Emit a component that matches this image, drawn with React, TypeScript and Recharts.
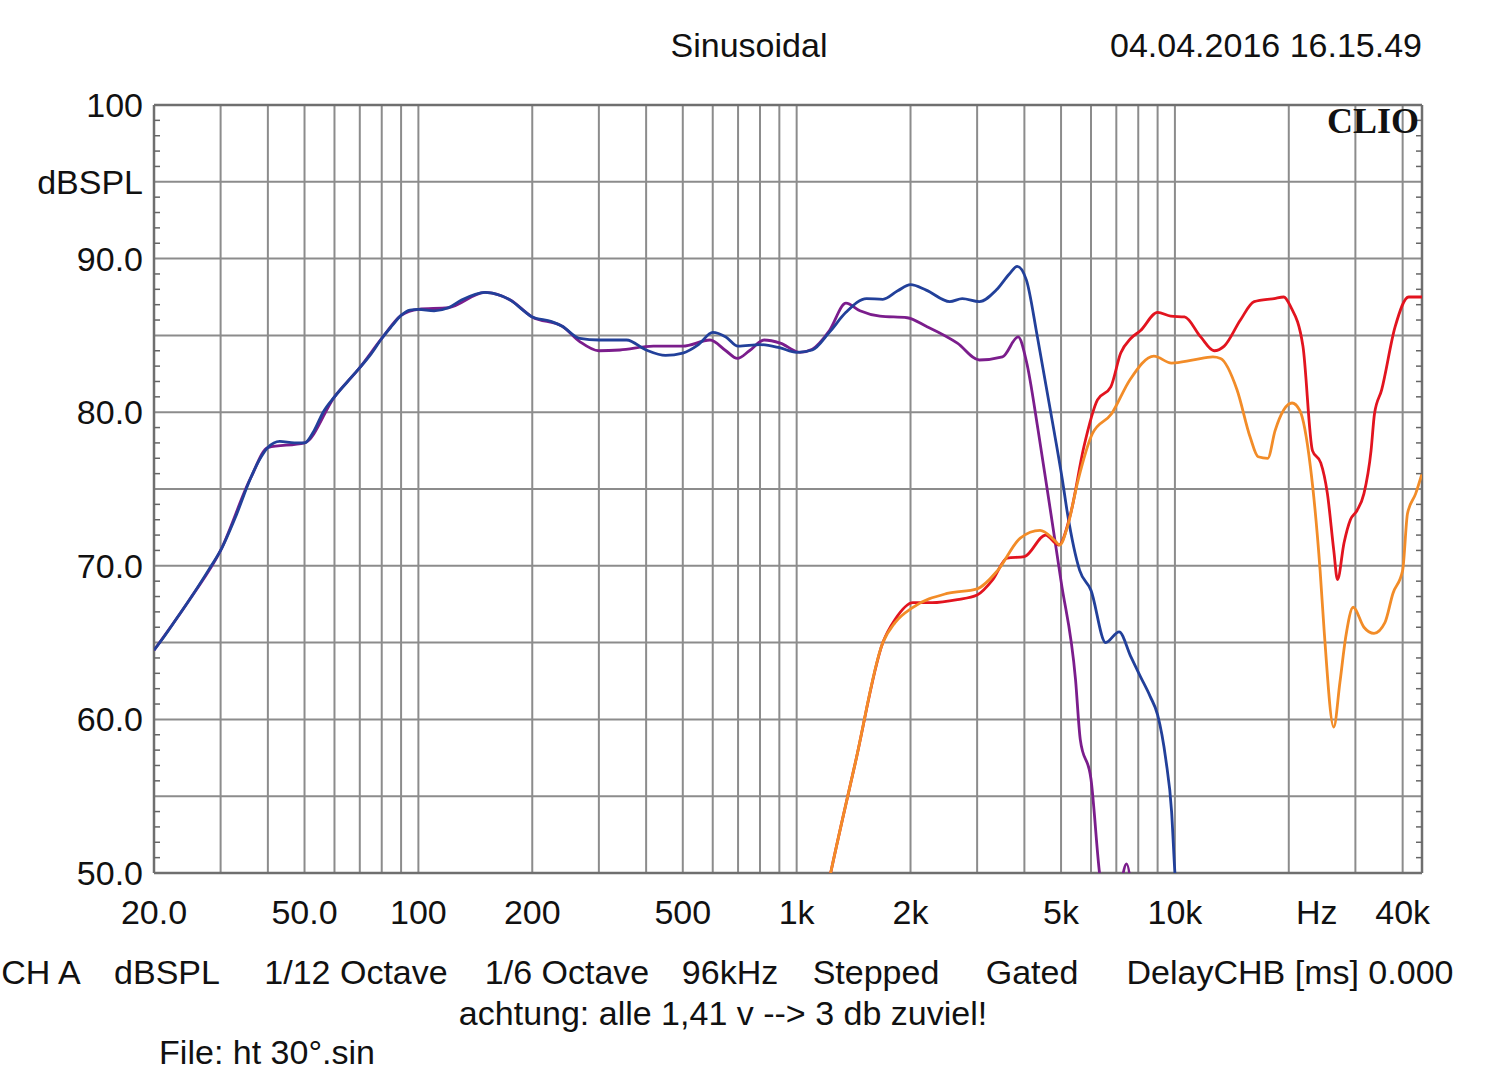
import { LineChart, Line, XAxis, YAxis, ReferenceLine } from "recharts";

const FONT = '"Liberation Sans", Arial, sans-serif';

// x axis (Hz, log)
const xTicks = [20, 50, 100, 200, 500, 1000, 2000, 5000, 10000, 20000, 40000];
const xTickLabels = ["20.0", "50.0", "100", "200", "500", "1k", "2k", "5k", "10k", "Hz", "40k"];
const gridFreqs = [
  30, 40, 50, 60, 70, 80, 90, 100, 200, 300, 400, 500, 600, 700, 800, 900, 1000, 2000, 3000,
  4000, 5000, 6000, 7000, 8000, 9000, 10000, 20000, 30000, 40000,
];

// y axis (dBSPL)
const yTicks = [50, 55, 60, 65, 70, 75, 80, 85, 90, 95, 100];
const yTickLabels = ["50.0", "", "60.0", "", "70.0", "", "80.0", "", "90.0", "dBSPL", "100"];
const gridLevels = [55, 60, 65, 70, 75, 80, 85, 90, 95];
const minorLevels = [
  51, 52, 53, 54, 56, 57, 58, 59, 61, 62, 63, 64, 66, 67, 68, 69, 71, 72, 73, 74, 76, 77, 78, 79,
  81, 82, 83, 84, 86, 87, 88, 89, 91, 92, 93, 94, 96, 97, 98, 99,
];

// blue curve
const blueFreq = [
  20, 21, 23, 25, 28, 30, 33, 36, 38, 40, 43, 47, 50, 53, 56, 60, 65, 70, 75, 80, 85, 90, 95, 100,
  110, 120, 130, 150, 165, 175, 190, 200, 225, 240, 267, 300, 355, 400, 450, 500, 550, 600, 650,
  700, 800, 900, 1000, 1100, 1220, 1350, 1530, 1690, 1850, 2000, 2200, 2540, 2740, 3040, 3370,
  3650, 3830, 4050, 4330, 4790, 5040, 5200, 5600, 6000, 6560, 7120, 7640, 8100, 8600, 9000, 9460,
  9800, 10000, 10400,
];
const blueDb = [
  64.5, 65.2, 66.6, 67.9, 69.8, 71.0, 73.3, 75.7, 76.9, 77.7, 78.1, 78.0, 78.0, 78.8, 80.0, 81.0,
  82.0, 82.9, 83.8, 84.8, 85.6, 86.3, 86.65, 86.7, 86.6, 86.8, 87.3, 87.8, 87.6, 87.3, 86.6, 86.2,
  85.9, 85.6, 84.8, 84.7, 84.7, 84.05, 83.7, 83.85, 84.4, 85.2, 84.9, 84.3, 84.4, 84.2, 83.9,
  84.05, 85.2, 86.5, 87.4, 87.35, 87.9, 88.3, 87.95, 87.2, 87.4, 87.2, 87.95, 89.0, 89.5, 88.6,
  84.9, 78.8, 75.6, 73.4, 69.7, 68.4, 65.0, 65.7, 64.1, 62.8, 61.5, 60.3, 57.4, 54.0, 50.0, 46.0,
];

// purple curve
const purpleFreq = [
  20, 25, 30, 36, 40, 50, 60, 70, 80, 90, 100, 120, 150, 175, 200, 240, 267, 300, 341, 418, 500,
  590, 650, 697, 750, 820, 905, 1020, 1100, 1220, 1350, 1470, 1660, 1960, 2200, 2660, 3040, 3500,
  3850, 4050, 4350, 4700, 5000, 5460, 5620, 6000, 6320, 6700, 7100, 7450, 7800,
];
const purpleDb = [
  64.5, 67.9, 71.0, 75.7, 77.7, 78.0, 81.0, 82.9, 84.8, 86.3, 86.7, 86.8, 87.8, 87.3, 86.2, 85.6,
  84.6, 84.0, 84.05, 84.3, 84.3, 84.7, 84.0, 83.5, 84.0, 84.7, 84.5, 83.9, 84.1, 85.3, 87.1, 86.6,
  86.25, 86.15, 85.6, 84.5, 83.4, 83.6, 84.9, 83.3, 78.8, 73.4, 69.0, 62.6, 58.7, 56.1, 50.0, 46.5,
  48.5, 50.6, 47.0,
];

// red curve
const redFreq = [
  1150, 1230, 1430, 1690, 1820, 2030, 2280, 2660, 3000, 3300, 3600, 4000, 4550, 4930, 5300, 5740,
  6240, 6770, 7190, 7640, 8100, 9000, 9750, 10600, 11700, 12700, 13500, 14900, 16200, 18300,
  19400, 20200, 21800, 23100, 24300, 25300, 26300, 26900, 28000, 29100, 30300, 31600, 33000, 33700,
  35200, 38200, 41500, 45000,
];
const redDb = [
  46.5, 50.0, 57.2, 65.0, 66.5, 67.6, 67.6, 67.8, 68.1, 69.1, 70.5, 70.6, 72.0, 71.35, 73.4, 77.7,
  80.8, 81.65, 83.85, 84.8, 85.3, 86.5, 86.25, 86.2, 84.9, 84.0, 84.3, 86.0, 87.2, 87.4, 87.5,
  86.9, 84.3, 77.5, 76.7, 74.7, 71.0, 69.1, 71.5, 73.0, 73.6, 74.7, 77.5, 79.9, 81.45, 85.55, 87.5,
  87.5,
];

// orange curve
const orangeFreq = [
  1150, 1230, 1430, 1690, 1820, 2030, 2500, 3000, 3400, 3900, 4400, 4790, 4960, 5200, 5550, 6050,
  6800, 7600, 8800, 9800, 11200, 12600, 13200, 14600, 15800, 16600, 17600, 18400, 20400, 21400,
  22800, 24200, 24800, 26300, 27300, 28300, 29600, 31600, 33600, 35900, 37700, 40000, 41200, 43300,
  45000,
];
const orangeDb = [
  46.5, 50.0, 57.2, 65.0, 66.3, 67.3, 68.2, 68.5, 69.7, 71.8, 72.3, 71.7, 71.35, 72.55, 75.6, 78.6,
  79.9, 82.1, 83.65, 83.2, 83.4, 83.6, 83.5, 81.45, 78.4, 77.1, 77.0, 78.8, 80.6, 80.1, 76.5, 69.7,
  65.8, 59.5, 62.4, 65.4, 67.3, 66.0, 65.6, 66.3, 68.2, 69.7, 73.4, 74.7, 76.0,
];

const toPoints = (fs: number[], dbs: number[]) => fs.map((f, i) => ({ f, db: dbs[i] }));

const series = [
  { name: "purple", color: "#7b1d8c", data: toPoints(purpleFreq, purpleDb) },
  { name: "blue", color: "#22409a", data: toPoints(blueFreq, blueDb) },
  { name: "red", color: "#e2141f", data: toPoints(redFreq, redDb) },
  { name: "orange", color: "#f28c28", data: toPoints(orangeFreq, orangeDb) },
];

function XTick(props: any) {
  const { x, y, payload } = props;
  const label = xTickLabels[xTicks.indexOf(payload.value)] ?? "";
  const dx = label === "Hz" ? 28 : 0;
  return (
    <text x={x + dx} y={y + 51} textAnchor="middle" fontSize={34} fontFamily={FONT} fill="#111">
      {label}
    </text>
  );
}

function YTick(props: any) {
  const { x, y, payload } = props;
  const label = yTickLabels[yTicks.indexOf(payload.value)] ?? "";
  return (
    <text x={x - 11} y={y + 12} textAnchor="end" fontSize={34} fontFamily={FONT} fill="#111">
      {label}
    </text>
  );
}

const NoTick = () => <g />;

const txt = (cx: number, cy: number, s: string, align: "c" | "r" = "c") => (
  <div
    key={s}
    style={{
      position: "absolute",
      top: cy - 17,
      left: align === "c" ? cx : undefined,
      right: align === "r" ? 1500 - cx : undefined,
      transform: align === "c" ? "translateX(-50%)" : undefined,
      whiteSpace: "nowrap",
      fontFamily: FONT,
      fontSize: 34,
      lineHeight: "34px",
      color: "#111",
    }}
  >
    {s}
  </div>
);

export default function App() {
  return (
    <div
      style={{
        position: "absolute",
        left: 0,
        top: 0,
        width: 1500,
        height: 1086,
        background: "#fff",
        overflow: "hidden",
      }}
    >
      <LineChart width={1500} height={1086} margin={{ top: 105, right: 78, bottom: 153, left: 94 }}>
        <XAxis
          dataKey="f"
          type="number"
          scale="log"
          domain={[20, 45000]}
          allowDataOverflow
          ticks={xTicks}
          interval={0}
          height={60}
          tickSize={0}
          tickMargin={0}
          tickLine={false}
          axisLine={false}
          tick={<XTick />}
        />
        <YAxis
          type="number"
          domain={[50, 100]}
          allowDataOverflow
          ticks={yTicks}
          interval={0}
          width={60}
          tickSize={0}
          tickMargin={0}
          tickLine={false}
          axisLine={false}
          tick={<YTick />}
        />
        <YAxis
          yAxisId="minorL"
          type="number"
          domain={[50, 100]}
          allowDataOverflow
          ticks={minorLevels}
          interval={0}
          width={2}
          mirror
          tick={<NoTick />}
          tickSize={6}
          tickLine={{ stroke: "#666", strokeWidth: 1.5 }}
          axisLine={false}
        />
        <YAxis
          yAxisId="minorR"
          orientation="right"
          type="number"
          domain={[50, 100]}
          allowDataOverflow
          ticks={minorLevels}
          interval={0}
          width={2}
          mirror
          tick={<NoTick />}
          tickSize={6}
          tickLine={{ stroke: "#666", strokeWidth: 1.5 }}
          axisLine={false}
        />
        {gridFreqs.map((f) => (
          <ReferenceLine key={"v" + f} x={f} stroke="#8c8c8c" strokeWidth={2} />
        ))}
        {gridLevels.map((d) => (
          <ReferenceLine key={"h" + d} y={d} stroke="#8c8c8c" strokeWidth={2} />
        ))}
        <ReferenceLine x={20} stroke="#6f6f6f" strokeWidth={2.5} />
        <ReferenceLine x={45000} stroke="#6f6f6f" strokeWidth={2.5} />
        <ReferenceLine y={100} stroke="#6f6f6f" strokeWidth={2.5} />
        <ReferenceLine y={50} stroke="#6f6f6f" strokeWidth={2.5} />
        {series.map((s) => (
          <Line
            key={s.name}
            data={s.data}
            dataKey="db"
            type="monotone"
            stroke={s.color}
            strokeWidth={2.8}
            dot={false}
            activeDot={false}
            isAnimationActive={false}
          />
        ))}
      </LineChart>
      {txt(749, 45, "Sinusoidal")}
      {txt(1422, 45, "04.04.2016 16.15.49", "r")}
      <div
        style={{
          position: "absolute",
          right: 1500 - 1419,
          top: 101,
          fontFamily: '"Liberation Serif", "Times New Roman", serif',
          fontWeight: "bold",
          fontSize: 36,
          lineHeight: "40px",
          color: "#111",
        }}
      >
        CLIO
      </div>
      {txt(41, 972, "CH A")}
      {txt(167, 972, "dBSPL")}
      {txt(356, 972, "1/12 Octave")}
      {txt(567, 972, "1/6 Octave")}
      {txt(730, 972, "96kHz")}
      {txt(876, 972, "Stepped")}
      {txt(1032, 972, "Gated")}
      {txt(1290, 972, "DelayCHB [ms] 0.000")}
      {txt(723, 1013, "achtung: alle 1,41 v --> 3 db zuviel!")}
      {txt(267, 1052, "File: ht 30°.sin")}
    </div>
  );
}
